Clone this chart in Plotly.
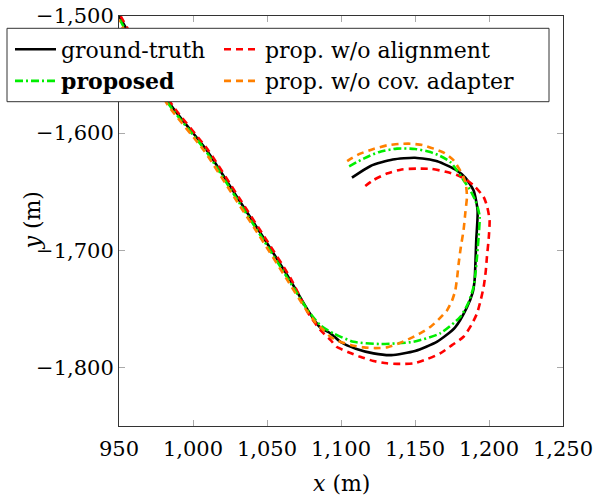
import plotly.graph_objects as go

# ---------------- data ----------------
gt_x = [946, 965, 985, 1009.5, 1030, 1047, 1065, 1078, 1086, 1093, 1100, 1110, 1122, 1134, 1150,
        1165, 1177, 1185, 1189, 1190.3, 1191.4, 1192.3, 1189.6, 1184, 1178.4, 1165, 1150, 1135, 1120, 1107.4]
gt_y = [-1491, -1533, -1576, -1615, -1655, -1688, -1724, -1752, -1766, -1771, -1778.5, -1784, -1788, -1789.5, -1786,
        -1778, -1766, -1749, -1736, -1725, -1691, -1666, -1649, -1638, -1632, -1624, -1621, -1622.5, -1628, -1638]

noalign_x = [947, 966, 986, 1010.5, 1031, 1048, 1066, 1078, 1086, 1093, 1097, 1105, 1113, 1122, 1131, 1140,
             1149, 1158, 1167, 1175, 1182.8, 1188, 1191.9, 1194.5, 1196.4, 1197.8, 1198.6, 1199.8, 1200.4, 1198.8,
             1196.4, 1190, 1185.1, 1178, 1171.6, 1161, 1151.3, 1141, 1131, 1122, 1114.2]
noalign_y = [-1491, -1533, -1576, -1615, -1655, -1688, -1724, -1754, -1768, -1776.6, -1782.4, -1787, -1790.9, -1794.5,
             -1796.5, -1797, -1796.5, -1793, -1788, -1781, -1773.8, -1764, -1753.9, -1742, -1731.2, -1718, -1705.6,
             -1690, -1674.3, -1663, -1654.5, -1645, -1640.2, -1635.5, -1633.2, -1630.5, -1630.3, -1631, -1634.5,
             -1640, -1647.3]

prop_x = [945, 964, 984, 1008.5, 1029, 1046, 1064, 1077, 1086, 1095, 1108.5, 1126.5, 1149, 1167, 1180.6, 1186,
          1189.6, 1191, 1191.9, 1193, 1193.7, 1192.5, 1190.7, 1187, 1182.8, 1178.5, 1173.8, 1167, 1160.3, 1150,
          1137.8, 1126, 1115.3, 1104]
prop_y = [-1491, -1533, -1576, -1615, -1655, -1688, -1724, -1750, -1764, -1771, -1778.1, -1780, -1778.1, -1770.9,
          -1756.8, -1745, -1731.2, -1718, -1705.6, -1688, -1671.5, -1664, -1657.3, -1648, -1640.2, -1632, -1624.6,
          -1619.5, -1616.1, -1613.5, -1613.2, -1616, -1621.7, -1629.4]

nocov_x = [944, 963, 983, 1007.5, 1028, 1045, 1063, 1076, 1083, 1088.2, 1093, 1099.5, 1107, 1115.3, 1123, 1131,
           1139, 1146.8, 1154, 1160.3, 1166, 1171.6, 1175, 1177.2, 1178.5, 1179.5, 1181, 1182.8, 1184, 1185.1,
           1184.5, 1182.8, 1176.1, 1170, 1162.6, 1155, 1146.8, 1139, 1131, 1122, 1113, 1107, 1101.8]
nocov_y = [-1491, -1533, -1576, -1615, -1655, -1688, -1724, -1750, -1762, -1768.1, -1774, -1778.1, -1781, -1782.9,
           -1783.5, -1782.9, -1779.5, -1775.2, -1770.5, -1765.5, -1759, -1751.3, -1743, -1734.3, -1723, -1711.3,
           -1697, -1682.9, -1668, -1654.5, -1645, -1637.4, -1623.2, -1617, -1613.2, -1610.2, -1609, -1609.2,
           -1610.4, -1613.5, -1617.5, -1621.5, -1626]

names = ["ground-truth", "prop. w/o alignment", "<b>proposed</b>", "prop. w/o cov. adapter"]
x_ticks = [950, 1000, 1050, 1100, 1150, 1200, 1250]
y_ticks = [-1800, -1700, -1600, -1500]

FONT = "DejaVu Serif"
LW = 2.6

fig = go.Figure()
fig.add_trace(go.Scatter(x=gt_x, y=gt_y, mode="lines", name=names[0], legend="legend",
                         line=dict(color="black", width=LW, shape="spline", smoothing=0.6)))
fig.add_trace(go.Scatter(x=noalign_x, y=noalign_y, mode="lines", name=names[1], legend="legend2",
                         line=dict(color="#ff0000", width=LW, dash="7px,5px", shape="spline", smoothing=0.6)))
fig.add_trace(go.Scatter(x=prop_x, y=prop_y, mode="lines", name=names[2], legend="legend",
                         line=dict(color="#00ee00", width=LW, dash="8px,3px,2px,3px", shape="spline", smoothing=0.6)))
fig.add_trace(go.Scatter(x=nocov_x, y=nocov_y, mode="lines", name=names[3], legend="legend2",
                         line=dict(color="#ff8000", width=LW, dash="7px,5px", shape="spline", smoothing=0.6)))

L, R, T, B = 119, 33, 16, 72
W, H = 596, 498
pw, ph = W - L - R, H - T - B

def px2paper_x(px):
    return (px - L) / pw

def px2paper_y(py):
    return 1 - (py - T) / ph

axis_common = dict(showgrid=False, zeroline=False, showline=True, linecolor="#333333", linewidth=1,
                   mirror="allticks", ticks="inside", ticklen=6, tickcolor="#aaaaaa", tickwidth=1,
                   tickformat=",", tickfont=dict(family=FONT, size=21, color="black"))

fig.update_layout(
    width=W, height=H,
    margin=dict(l=L, r=R, t=T, b=B, autoexpand=False),
    plot_bgcolor="white", paper_bgcolor="white",
    font=dict(family=FONT, color="black"),
    xaxis=dict(range=[950, 1250], tickvals=x_ticks, ticklabelstandoff=4, **axis_common),
    yaxis=dict(range=[-1850, -1500], tickvals=y_ticks, **axis_common),
    legend=dict(x=px2paper_x(10), y=px2paper_y(28.5), xanchor="left", yanchor="top",
                bgcolor="rgba(0,0,0,0)", borderwidth=0, itemwidth=41,
                font=dict(family=FONT, size=22, color="black")),
    legend2=dict(x=px2paper_x(219), y=px2paper_y(28.5), xanchor="left", yanchor="top",
                 bgcolor="rgba(0,0,0,0)", borderwidth=0, itemwidth=36,
                 font=dict(family=FONT, size=22, color="black")),
    shapes=[dict(type="rect", xref="paper", yref="paper", layer="above",
                 x0=px2paper_x(7), x1=px2paper_x(549), y0=px2paper_y(101.7), y1=px2paper_y(28.3),
                 fillcolor="white", line=dict(color="#333333", width=1))],
    annotations=[
        dict(text="<i>x</i> (m)", xref="paper", yref="paper", x=0.5, y=px2paper_y(484),
             xanchor="center", yanchor="middle", showarrow=False,
             font=dict(family=FONT, size=22, color="black")),
        dict(text="<i>y</i> (m)", xref="paper", yref="paper", x=px2paper_x(31.5), y=0.5,
             xanchor="center", yanchor="middle", showarrow=False, textangle=-90,
             font=dict(family=FONT, size=22, color="black")),
    ],
)

fig.write_html("out.html", config={"displayModeBar": False},
               post_script="document.body.style.margin='0px';")
